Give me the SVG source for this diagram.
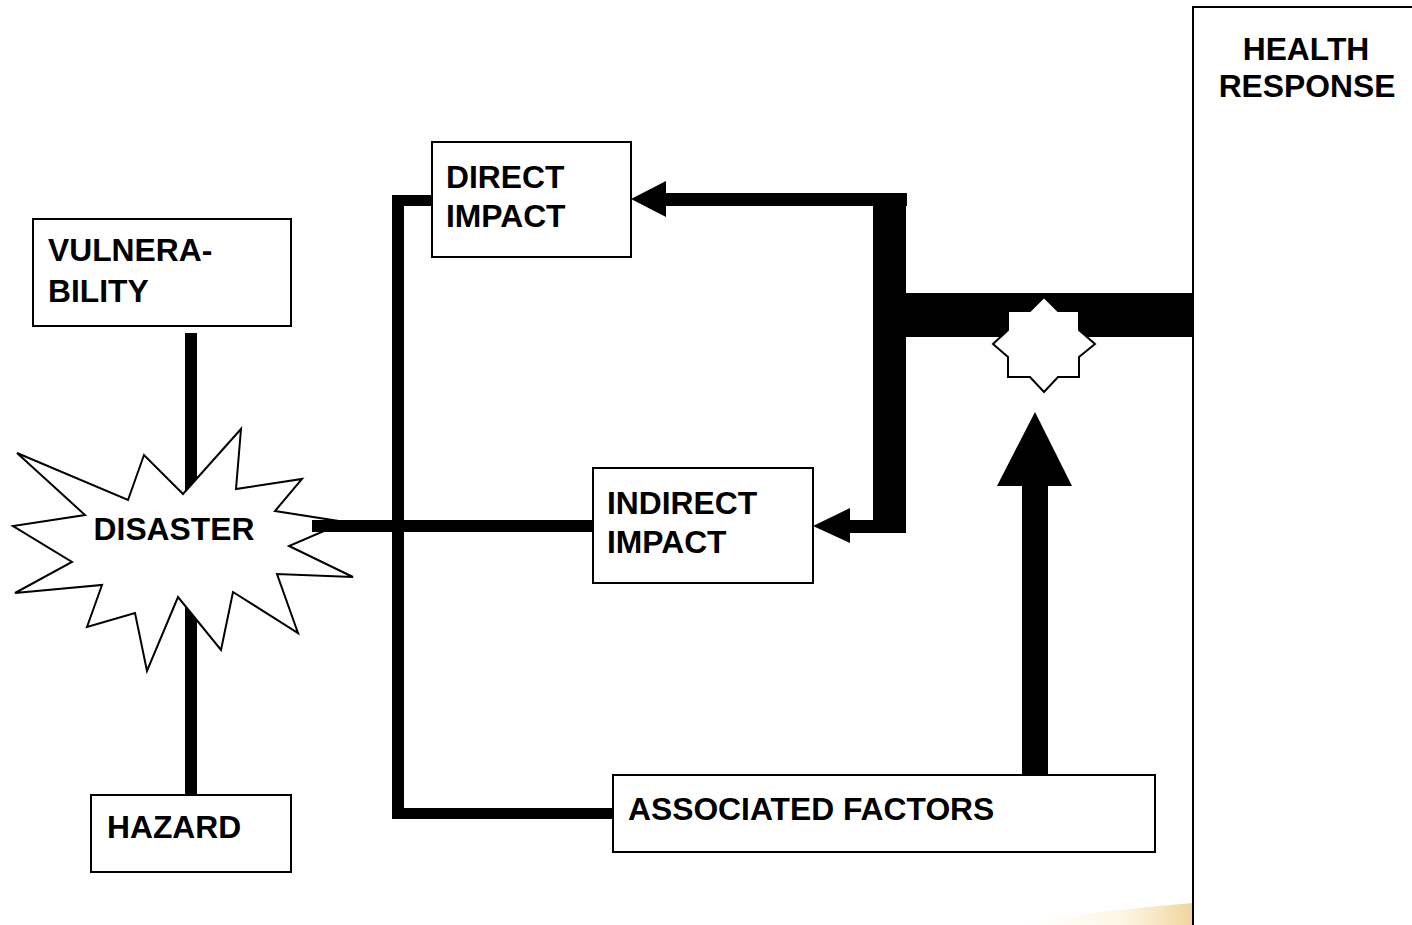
<svg xmlns="http://www.w3.org/2000/svg" width="1412" height="925" viewBox="0 0 1412 925">
<defs>
<style>
.box{fill:#fff;stroke:#000;stroke-width:2}
.t{font-family:"Liberation Sans",Arial,sans-serif;font-weight:bold;font-size:31.8px;fill:#000}
.bar{fill:#000}
</style>
<linearGradient id="glow" x1="0" y1="0" x2="1" y2="0">
<stop offset="0" stop-color="#fff8e0" stop-opacity="0"/>
<stop offset="0.6" stop-color="#f8ecc8" stop-opacity="0.5"/>
<stop offset="1" stop-color="#eac070" stop-opacity="0.7"/>
</linearGradient>
</defs>
<rect width="1412" height="925" fill="#fff"/>
<path d="M1015 925 Q1100 910 1193 903 L1193 925 Z" fill="url(#glow)"/>
<g id="health-response">
<rect class="box" x="1193" y="7" width="240" height="930"/>
<text class="t" x="1306" y="60" text-anchor="middle">HEALTH</text>
<text class="t" x="1307" y="97" text-anchor="middle">RESPONSE</text>
</g>
<g id="connectors">
<rect class="bar" x="185" y="333" width="12" height="180"/>
<rect class="bar" x="185" y="580" width="12" height="215"/>
<rect class="bar" x="392" y="195" width="40" height="11"/>
<rect class="bar" x="392" y="195" width="12" height="624"/>
<rect class="bar" x="392" y="808" width="221" height="11"/>
<rect class="bar" x="873" y="193" width="33" height="340"/>
<rect class="bar" x="660" y="193" width="247" height="13"/>
<polygon class="bar" points="631,199 666,181 666,217"/>
<rect class="bar" x="845" y="520" width="61" height="13"/>
<polygon class="bar" points="813,526 850,508 850,543"/>
<rect class="bar" x="905" y="293" width="288" height="44"/>
<rect class="bar" x="1022" y="480" width="26" height="295"/>
<polygon class="bar" points="1035,412 1072,486 997,486"/>
</g>
<g id="disaster">
<polygon fill="#fff" stroke="#000" stroke-width="2" points="17,453 128,500 144,455 183,494 241,429 236,489 302,479 275,511 345,522 289,546 353,577 277,574 298,633 233,592 221,650 178,597 147,671 135,613 87,627 102,585 15,593 72,562 13,526 85,515"/>
<text class="t" x="174" y="540" text-anchor="middle">DISASTER</text>
</g>
<rect class="bar" x="312" y="520" width="281" height="12"/>
<rect class="bar" x="392" y="515" width="12" height="20"/>
<g id="star">
<polygon fill="#fff" stroke="#000" stroke-width="2" points="1044,297 1058,311 1079,311 1079,330 1095,344 1079,357 1079,377 1058,377 1044,392 1030,377 1008,377 1008,357 993,344 1008,330 1008,311 1030,311"/>
</g>
<g id="vulnerability">
<rect class="box" x="33" y="219" width="258" height="107"/>
<text class="t" x="48" y="261">VULNERA-</text>
<text class="t" x="48" y="302">BILITY</text>
</g>
<g id="hazard">
<rect class="box" x="91" y="795" width="200" height="77"/>
<text class="t" x="107" y="838">HAZARD</text>
</g>
<g id="direct-impact">
<rect class="box" x="432" y="142" width="199" height="115"/>
<text class="t" x="446" y="188">DIRECT</text>
<text class="t" x="446" y="227">IMPACT</text>
</g>
<g id="indirect-impact">
<rect class="box" x="593" y="468" width="220" height="115"/>
<text class="t" x="607" y="514">INDIRECT</text>
<text class="t" x="607" y="553">IMPACT</text>
</g>
<g id="associated-factors">
<rect class="box" x="613" y="775" width="542" height="77"/>
<text class="t" x="628" y="820">ASSOCIATED FACTORS</text>
</g>
</svg>
